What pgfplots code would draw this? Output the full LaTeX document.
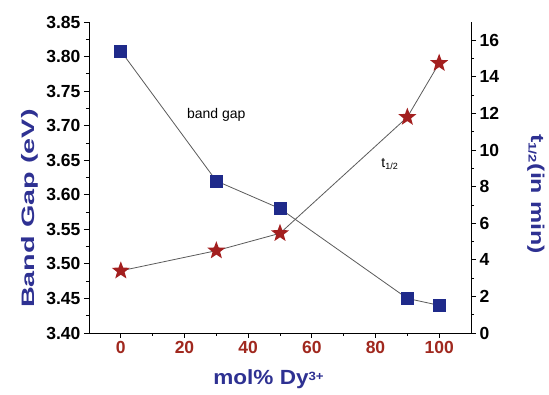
\documentclass[border=0pt]{standalone}
\usepackage{pgfplots}
\pgfplotsset{compat=1.18}
\usetikzlibrary{shapes.geometric}
\usepackage{fontspec}
\setmainfont{Liberation Sans}
\definecolor{bgblue}{HTML}{2E3192}
\definecolor{sqblue}{HTML}{1F2A8A}
\definecolor{tred}{HTML}{A0281E}
\definecolor{stred}{HTML}{A31F1F}
\definecolor{lgray}{HTML}{5A5A5A}
\pgfdeclareplotmark{fstar}{\node[star,star points=5,star point ratio=2.4,inner sep=0pt,minimum size=19pt,fill=stred,draw=none]{};}
\begin{document}
\begin{tikzpicture}
\useasboundingbox (-89pt,-62pt) rectangle (460pt,333pt);
\begin{axis}[
  at={(0,0)}, anchor=south west,
  scale only axis, width=382pt, height=311pt,
  xmin=-10, xmax=110, ymin=3.40, ymax=3.85,
  axis y line*=left, axis x line*=bottom,
  xtick={0,20,...,100}, minor x tick num=1,
  ytick={3.40,3.45,...,3.86}, minor y tick num=1,
  yticklabel style={/pgf/number format/.cd,fixed,fixed zerofill,precision=2},
  /pgf/number format/assume math mode=true,
  tick align=outside,
  major tick length=5pt, minor tick length=3pt,
  every tick/.style={black, line width=0.8pt},
  axis line style={line width=0.8pt},
  tick label style={font=\fontsize{17.5}{19}\selectfont\bfseries},
  xticklabel style={text=tred},
  xlabel={\scalebox{1.1}[1]{mol\% Dy\raisebox{4pt}{\fontsize{12}{12}\selectfont 3+}}},
  ylabel={\scalebox{1.6}[1]{Band Gap (eV)}},
  label style={font=\fontsize{18}{20}\selectfont\bfseries, text=bgblue},
  xlabel style={at={(axis description cs:0.47,-0.15)}, anchor=center, font=\fontsize{20.5}{22}\selectfont\bfseries},
  ylabel style={at={(axis description cs:-0.154,0.40)}, anchor=center},
  clip=false,
]
\addplot[lgray, line width=0.8pt, mark=square*, mark size=6pt,
  mark options={fill=sqblue, draw=sqblue}] coordinates {
  (0,3.808) (30,3.620) (50,3.580) (90,3.450) (100,3.440)};
\node[font=\fontsize{14}{16}\selectfont] at (axis cs:30,3.716) {band gap};
\node[font=\fontsize{14}{16}\selectfont] at (axis cs:84.5,3.645) {t\textsubscript{\fontsize{9}{9}\selectfont 1/2}};
\end{axis}
\begin{axis}[
  at={(0,0)}, anchor=south west,
  scale only axis, width=382pt, height=311pt,
  xmin=-10, xmax=110, ymin=0, ymax=17,
  axis y line*=right, axis x line=none,
  ytick={0,2,...,16}, minor y tick num=1,
  /pgf/number format/assume math mode=true,
  tick align=outside,
  major tick length=5pt, minor tick length=3pt,
  every tick/.style={black, line width=0.8pt},
  axis line style={line width=0.8pt},
  tick label style={font=\fontsize{17.5}{19}\selectfont\bfseries},
  ylabel={\scalebox{1.35}[1]{t\textsubscript{\fontsize{11}{11}\selectfont 1/2}(in min)}},
  label style={font=\fontsize{18.5}{20}\selectfont\bfseries, text=bgblue},
  ylabel style={at={(axis description cs:1.17,0.447)}, anchor=center, rotate=180},
  clip=false,
]
\addplot[lgray, line width=0.8pt, mark=fstar] coordinates {
  (0,3.4) (30,4.5) (50,5.45) (90,11.8) (100,14.75)};
\end{axis}
\end{tikzpicture}
\end{document}
